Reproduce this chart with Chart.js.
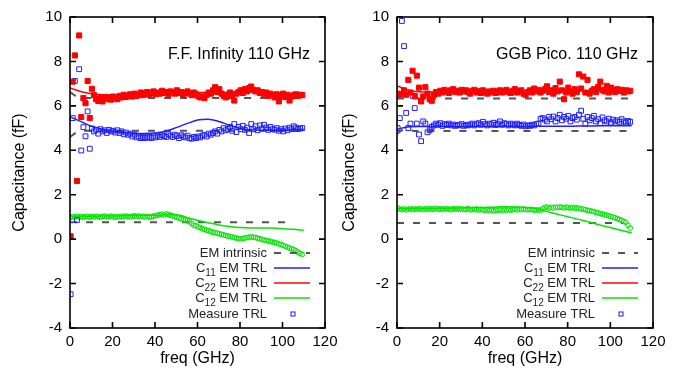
<!DOCTYPE html>
<html><head><meta charset="utf-8">
<script src="https://cdn.jsdelivr.net/npm/chart.js@4.4.1/dist/chart.umd.min.js"></script>
<style>
html,body{margin:0;padding:0;background:#fff;width:693px;height:373px;overflow:hidden}
#c1{position:absolute;left:0;top:0}
#c2{position:absolute;left:330px;top:0}
</style></head><body>
<canvas id="c1" width="346" height="373"></canvas>
<canvas id="c2" width="363" height="373"></canvas>
<script>
// ---------- data ----------
const X_TICKS = [0,20,40,60,80,100,120];
const Y_TICKS = [-4,-2,0,2,4,6,8,10];
const PANEL_TITLES = ['F.F. Infinity 110 GHz','GGB Pico. 110 GHz'];
const LEGEND_LABELS = ['EM intrinsic','C|11| EM TRL','C|22| EM TRL','C|12| EM TRL','Measure TRL'];

const FREQ = [0.3,1.3,2.3,3.3,4.3,5.3,6.3,7.3,8.3,9.3,
10.3,11.3,12.3,13.3,14.3,15.3,16.3,17.3,18.3,19.3,
20.3,21.3,22.3,23.3,24.3,25.3,26.3,27.3,28.3,29.3,
30.3,31.3,32.3,33.3,34.3,35.3,36.3,37.3,38.3,39.3,
40.3,41.3,42.3,43.3,44.3,45.3,46.3,47.3,48.3,49.3,
50.3,51.3,52.3,53.3,54.3,55.3,56.3,57.3,58.3,59.3,
60.3,61.3,62.3,63.3,64.3,65.3,66.3,67.3,68.3,69.3,
70.3,71.3,72.3,73.3,74.3,75.3,76.3,77.3,78.3,79.3,
80.3,81.3,82.3,83.3,84.3,85.3,86.3,87.3,88.3,89.3,
90.3,91.3,92.3,93.3,94.3,95.3,96.3,97.3,98.3,99.3,
100.3,101.3,102.3,103.3,104.3,105.3,106.3,107.3,108.3,109.3];

const LEFT_C22_MEAS = [0.13,7.09,8.27,2.62,9.17,5.5,6.35,6.12,7.12,5.45,
6.77,6.48,6.3,6.22,6.35,6.2,6.4,6.3,6.38,6.28,
6.42,6.35,6.3,6.45,6.38,6.5,6.4,6.45,6.52,6.42,
6.55,6.45,6.5,6.6,6.48,6.55,6.62,6.5,6.58,6.65,
6.52,6.6,6.55,6.68,6.58,6.62,6.52,6.65,6.6,6.55,
6.7,6.58,6.62,6.5,6.58,6.65,6.55,6.48,6.6,6.52,
6.45,6.38,6.42,6.35,6.5,6.6,6.55,6.7,6.84,6.62,
6.75,6.55,6.45,6.38,6.5,6.6,6.45,6.24,6.55,6.62,
6.7,6.58,6.75,6.65,6.8,6.87,6.72,6.65,6.7,6.58,
6.62,6.52,6.6,6.45,6.55,6.48,6.38,6.52,6.2,6.45,
6.55,6.4,6.5,6.24,6.42,6.48,6.52,6.45,6.5,6.48];

const LEFT_C11_MEAS = [-2.48,5.45,7.12,0.86,7.65,3.99,5.04,4.63,5.75,4.07,
4.98,4.85,4.92,4.75,4.95,4.85,4.9,4.78,4.92,4.85,
4.88,4.8,4.9,4.78,4.85,4.72,4.8,4.7,4.75,4.62,
4.7,4.58,4.62,4.55,4.6,4.55,4.58,4.6,4.55,4.62,
4.58,4.66,4.6,4.68,4.64,4.6,4.72,4.66,4.6,4.7,
4.64,4.55,4.68,4.62,4.58,4.66,4.55,4.52,4.6,4.55,
4.62,4.58,4.66,4.7,4.62,4.75,4.7,4.78,4.85,4.75,
4.92,4.85,5.0,4.9,4.96,5.05,4.88,5.18,4.82,5.05,
4.95,5.1,4.92,5.02,4.78,5.18,4.95,5.08,4.9,5.12,
4.98,5.15,5.02,4.92,5.05,4.95,4.93,5.0,4.88,4.95,
4.85,4.98,4.9,5.02,4.95,5.08,5.02,4.96,4.98,5.0];

const LEFT_C12_MEAS = [0.98,1.02,0.99,1.03,1.0,1.02,0.98,1.01,1.03,0.99,
1.02,1.0,1.03,1.01,0.99,1.02,1.04,1.0,1.02,1.03,
1.01,0.99,1.02,1.0,1.03,1.01,1.04,1.02,1.0,1.03,
1.05,1.02,1.04,1.01,1.03,1.0,1.02,0.99,1.01,1.04,
1.06,1.08,1.1,1.12,1.09,1.13,1.11,1.08,1.05,1.02,
0.98,0.95,0.92,0.88,0.86,0.82,0.78,0.7,0.62,0.6,
0.55,0.52,0.47,0.44,0.4,0.38,0.34,0.31,0.3,0.27,
0.24,0.22,0.19,0.16,0.14,0.12,0.1,0.07,0.05,0.02,
0.01,0.03,0.05,0.07,0.09,0.1,0.09,0.07,0.04,0.02,
-0.01,-0.04,-0.06,-0.08,-0.1,-0.13,-0.15,-0.18,-0.21,-0.24,
-0.28,-0.32,-0.36,-0.4,-0.43,-0.47,-0.52,-0.59,-0.64,-0.69];

const RIGHT_C22_MEAS = [6.55,6.5,6.53,6.7,6.5,7.17,6.6,7.58,6.45,7.36,
6.82,6.2,6.42,6.84,6.55,6.3,6.23,6.5,6.62,6.55,
6.68,6.6,6.72,6.65,6.58,6.7,6.75,6.62,6.68,6.6,
6.72,6.65,6.7,6.62,6.55,6.68,6.72,6.6,6.66,6.58,
6.7,6.62,6.55,6.65,6.6,6.68,6.58,6.64,6.7,6.6,
6.65,6.72,6.62,6.58,6.68,6.75,6.6,6.66,6.7,6.55,
6.5,6.62,6.7,6.6,6.78,6.65,6.72,6.6,6.68,6.75,
6.88,6.62,6.7,6.55,6.8,6.65,7.09,6.7,6.3,6.6,
6.82,6.65,6.55,6.75,6.62,7.42,6.78,7.32,6.6,7.17,
6.55,6.68,6.75,6.62,6.85,7.09,6.72,6.65,6.9,6.6,
6.82,6.7,6.62,6.75,6.68,6.72,6.6,6.7,6.65,6.68];

const RIGHT_C11_MEAS = [5.0,5.45,9.82,8.69,5.68,5.0,5.2,6.45,5.9,5.2,
4.71,4.41,5.3,5.2,4.81,4.9,5.05,5.12,5.2,5.15,
5.22,5.1,5.18,5.14,5.2,5.12,5.16,5.1,5.14,5.12,
5.18,5.1,5.14,5.12,5.16,5.2,5.12,5.18,5.22,5.15,
5.28,5.18,5.12,5.2,5.16,5.24,5.14,5.2,5.3,5.15,
5.22,5.18,5.12,5.2,5.16,5.12,5.2,5.14,5.1,5.16,
5.08,5.12,5.1,5.15,5.12,5.18,5.2,5.42,5.45,5.38,
5.3,5.5,5.4,5.52,5.3,5.45,5.6,5.35,5.5,5.42,
5.55,5.3,5.45,5.5,5.38,5.6,5.78,5.42,5.2,5.5,
5.35,5.45,5.55,5.3,5.4,5.22,5.48,5.35,5.3,5.42,
5.25,5.38,5.3,5.35,5.28,5.4,5.3,5.25,5.32,5.28];

const RIGHT_C12_MEAS = [1.4,1.35,1.33,1.36,1.32,1.35,1.37,1.33,1.36,1.34,
1.38,1.35,1.33,1.37,1.35,1.38,1.34,1.36,1.39,1.35,
1.37,1.34,1.36,1.38,1.35,1.33,1.37,1.35,1.38,1.34,
1.36,1.33,1.35,1.37,1.32,1.35,1.33,1.36,1.31,1.34,
1.32,1.3,1.33,1.29,1.32,1.28,1.31,1.3,1.33,1.28,
1.32,1.3,1.35,1.29,1.33,1.36,1.32,1.35,1.33,1.36,
1.34,1.32,1.34,1.33,1.31,1.3,1.32,1.3,1.36,1.42,
1.45,1.4,1.43,1.41,1.44,1.42,1.45,1.43,1.41,1.44,
1.42,1.4,1.43,1.39,1.41,1.38,1.36,1.35,1.32,1.3,
1.28,1.26,1.24,1.2,1.18,1.15,1.13,1.1,1.08,1.05,
1.02,0.99,0.96,0.92,0.88,0.85,0.8,0.76,0.62,0.5];

const LINE_FREQ = [0,5,10,15,20,25,30,35,40,45,50,55,60,65,70,75,80,85,90,95,100,105,110];
const LEFT_C11_EM = [5.5,5.3,5.08,4.95,4.86,4.8,4.77,4.76,4.78,4.86,5.02,5.2,5.36,5.4,5.3,5.13,4.98,4.92,4.9,4.9,4.9,4.92,4.95];
const LEFT_C22_EM = [6.8,6.65,6.55,6.5,6.48,6.48,6.5,6.52,6.55,6.58,6.6,6.6,6.6,6.6,6.6,6.6,6.62,6.62,6.6,6.55,6.5,6.48,6.48];
const LEFT_C12_EM = [1.02,1.03,1.03,1.04,1.04,1.05,1.06,1.07,1.08,1.1,1.1,0.98,0.85,0.74,0.64,0.57,0.52,0.5,0.5,0.5,0.47,0.44,0.4];
const RIGHT_C11_EM = [4.95,5.05,5.07,5.07,5.07,5.07,5.07,5.07,5.07,5.07,5.07,5.07,5.07,5.08,5.08,5.08,5.08,5.09,5.09,5.1,5.1,5.1,5.1];
const RIGHT_C22_EM = [6.9,6.72,6.63,6.62,6.63,6.64,6.64,6.65,6.65,6.65,6.66,6.66,6.66,6.66,6.67,6.67,6.67,6.68,6.68,6.68,6.68,6.68,6.68];
const RIGHT_C12_EM = [1.37,1.37,1.38,1.38,1.39,1.39,1.4,1.41,1.42,1.44,1.46,1.45,1.42,1.38,1.25,1.13,1.01,0.89,0.77,0.64,0.52,0.4,0.28];

const LEFT_INTR_C22_X = [0,4,110], LEFT_INTR_C22 = [6.62,6.35,6.35];
const LEFT_INTR_C11_X = [0,4,110], LEFT_INTR_C11 = [4.6,4.88,4.88];
const LEFT_INTR_C12_X = [0,104],   LEFT_INTR_C12 = [0.76,0.76];
const RIGHT_INTR_C22_X = [0,110],  RIGHT_INTR_C22 = [6.33,6.33];
const RIGHT_INTR_C11_X = [0,3,8,110], RIGHT_INTR_C11 = [4.75,4.95,4.87,4.87];
const RIGHT_INTR_C12_X = [0,106],  RIGHT_INTR_C12 = [0.73,0.73];

// ---------- styling ----------
const RED = '#ff0000', BLUE = '#1f1fff', GREEN = '#00e600', GRAY = '#555555';
const FONT = '"Liberation Sans", Arial, sans-serif';

function pts(xs, ys){ return xs.map((x,i)=>({x:x, y:ys[i]})); }

function lineDs(xs, ys, color, order){
  return {data:pts(xs,ys), showLine:true, borderColor:color, borderWidth:1.5, pointRadius:0,
          tension:0.4, cubicInterpolationMode:'monotone', fill:false, order:order};
}
function dashDs(xs, ys){
  return {data:pts(xs,ys), showLine:true, borderColor:GRAY, borderWidth:2, borderDash:[7,9],
          pointRadius:0, tension:0, fill:false, order:5};
}
function markDs(ys, color, style, r, filled, order){
  return {data:pts(FREQ,ys), showLine:false, pointStyle:style, pointRadius:r,
          pointBackgroundColor: filled ? color : 'rgba(0,0,0,0)', pointBorderColor:color,
          pointBorderWidth:1, order:order};
}

const framePlugin = {
  id:'frame',
  afterDraw(chart){
    const {ctx, chartArea:a, scales:{x, y}} = chart;
    ctx.save();
    ctx.strokeStyle = '#000'; ctx.lineWidth = 1.6;
    ctx.strokeRect(a.left, a.top, a.right - a.left, a.bottom - a.top);
    ctx.beginPath();
    X_TICKS.forEach(v => { const p = x.getPixelForValue(v);
      ctx.moveTo(p, a.bottom); ctx.lineTo(p, a.bottom - 6);
      ctx.moveTo(p, a.top); ctx.lineTo(p, a.top + 6); });
    Y_TICKS.forEach(v => { const p = y.getPixelForValue(v);
      ctx.moveTo(a.left, p); ctx.lineTo(a.left + 6, p);
      ctx.moveTo(a.right, p); ctx.lineTo(a.right - 6, p); });
    ctx.stroke();

    // title inside plot
    const opt = chart.options.plugins.frame;
    ctx.fillStyle = '#000';
    ctx.font = '16px ' + FONT;
    ctx.textAlign = 'right'; ctx.textBaseline = 'middle';
    ctx.fillText(opt.title, a.right - 15, a.top + 38);

    // legend
    const types = ['dash','line','line','line','sq'];
    const colors = [GRAY, BLUE, RED, GREEN, BLUE];
    const offs = [75, 60, 45, 30, 14];
    const tx = a.right - 58, s0 = a.right - 51, s1 = a.right - 15;
    LEGEND_LABELS.forEach((lab, i) => {
      const yy = a.bottom - offs[i];
      const parts = lab.split('|');
      let total = 0;
      const widths = parts.map((p, k) => { ctx.font = (k % 2 ? '10px ' : '13px ') + FONT; const w = ctx.measureText(p).width; total += w; return w; });
      let cx = tx - total;
      ctx.textAlign = 'left';
      parts.forEach((p, k) => {
        ctx.font = (k % 2 ? '10px ' : '13px ') + FONT;
        ctx.fillStyle = '#222';
        ctx.fillText(p, cx, yy + (k % 2 ? 5 : 0));
        cx += widths[k];
      });
      ctx.strokeStyle = colors[i];
      if (types[i] === 'dash') {
        ctx.lineWidth = 2; ctx.setLineDash([7,9]);
        ctx.beginPath(); ctx.moveTo(s0, yy); ctx.lineTo(s1, yy); ctx.stroke();
        ctx.setLineDash([]);
      } else if (types[i] === 'line') {
        ctx.lineWidth = 1.5;
        ctx.beginPath(); ctx.moveTo(s0, yy); ctx.lineTo(s1, yy); ctx.stroke();
      } else {
        ctx.lineWidth = 1;
        const cxm = (s0 + s1) / 2 + 1;
        ctx.strokeRect(cxm - 2, yy - 2, 4, 4);
      }
    });
    ctx.restore();
  }
};

function makeChart(id, yWidth, rightPad, title, datasets){
  return new Chart(document.getElementById(id), {
    type:'scatter',
    data:{datasets:datasets},
    plugins:[framePlugin],
    options:{
      responsive:false, animation:false, events:[],
      layout:{padding:{top:15, right:rightPad, bottom:0, left:0}},
      plugins:{legend:{display:false}, tooltip:{enabled:false}, frame:{title:title}},
      scales:{
        x:{type:'linear', min:0, max:120,
           afterBuildTicks(s){ s.ticks = X_TICKS.map(v => ({value:v})); },
           ticks:{padding:5, maxRotation:0, color:'#000', font:{family:FONT, size:15}},
           grid:{display:false, drawTicks:false}, border:{display:false},
           title:{display:true, text:'freq (GHz)', color:'#000', font:{family:FONT, size:16}, padding:{top:0, bottom:5}},
           afterFit(s){ s.height = 45; }},
        y:{type:'linear', min:-4, max:10,
           afterBuildTicks(s){ s.ticks = Y_TICKS.map(v => ({value:v})); },
           ticks:{padding:8, color:'#000', font:{family:FONT, size:15}},
           grid:{display:false, drawTicks:false}, border:{display:false},
           title:{display:true, text:'Capacitance (fF)', color:'#000', font:{family:FONT, size:16}, padding:{top:10, bottom:0}},
           afterFit(s){ s.width = yWidth; }}
      }
    }
  });
}

makeChart('c1', 70, 21, PANEL_TITLES[0], [
  markDs(LEFT_C22_MEAS, RED, 'rect', 3.6, true, 0),
  markDs(LEFT_C11_MEAS, BLUE, 'rect', 3.4, false, 1),
  markDs(LEFT_C12_MEAS, GREEN, 'circle', 2.4, false, 2),
  lineDs(LINE_FREQ, LEFT_C11_EM, BLUE, 3),
  lineDs(LINE_FREQ, LEFT_C22_EM, RED, 3),
  lineDs(LINE_FREQ, LEFT_C12_EM, GREEN, 3),
  dashDs(LEFT_INTR_C22_X, LEFT_INTR_C22),
  dashDs(LEFT_INTR_C11_X, LEFT_INTR_C11),
  dashDs(LEFT_INTR_C12_X, LEFT_INTR_C12)
]);

makeChart('c2', 67, 40, PANEL_TITLES[1], [
  markDs(RIGHT_C22_MEAS, RED, 'rect', 3.6, true, 0),
  markDs(RIGHT_C11_MEAS, BLUE, 'rect', 3.4, false, 1),
  markDs(RIGHT_C12_MEAS, GREEN, 'circle', 2.4, false, 2),
  lineDs(LINE_FREQ, RIGHT_C11_EM, BLUE, 3),
  lineDs(LINE_FREQ, RIGHT_C22_EM, RED, 3),
  lineDs(LINE_FREQ, RIGHT_C12_EM, GREEN, 3),
  dashDs(RIGHT_INTR_C22_X, RIGHT_INTR_C22),
  dashDs(RIGHT_INTR_C11_X, RIGHT_INTR_C11),
  dashDs(RIGHT_INTR_C12_X, RIGHT_INTR_C12)
]);
</script>
</body></html>
